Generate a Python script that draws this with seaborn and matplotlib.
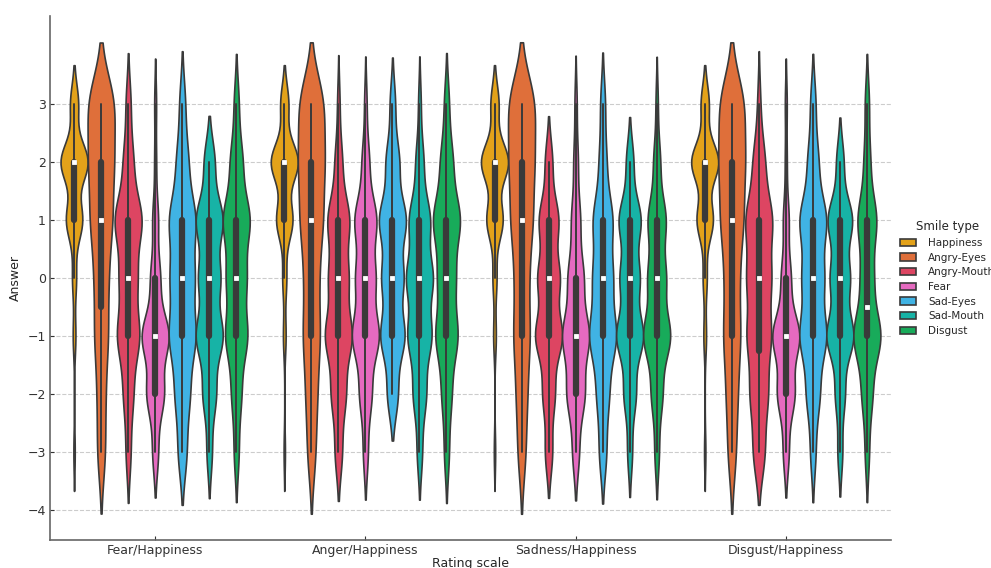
import matplotlib
matplotlib.use("Agg")
import matplotlib.pyplot as plt
import numpy as np
import pandas as pd
import seaborn as sns

# 答案取值 -3 .. 3
answers = [-3, -2, -1, 0, 1, 2, 3]
rating_scales = ["Fear/Happiness", "Anger/Happiness", "Sadness/Happiness", "Disgust/Happiness"]
smile_types = ["Happiness", "Angry-Eyes", "Angry-Mouth", "Fear", "Sad-Eyes", "Sad-Mouth", "Disgust"]
smile_colors = ["#E3A21A", "#DF6F3A", "#DD4562", "#E56AC0", "#40B3E4", "#17B3A6", "#18AB5A"]

# 每个量表下, 各微笑类型对 -3..3 的回答次数
fear_happiness_counts = [
    [1, 0, 2, 3, 12, 20, 6],
    [3, 3, 5, 5, 8, 9, 10],
    [2, 4, 9, 7, 11, 4, 2],
    [3, 9, 14, 5, 3, 1, 1],
    [3, 5, 9, 8, 9, 4, 2],
    [2, 5, 10, 8, 10, 4, 0],
    [2, 4, 9, 8, 11, 5, 2],
]
anger_happiness_counts = [
    [1, 0, 2, 3, 12, 20, 6],
    [3, 4, 6, 5, 8, 9, 9],
    [3, 6, 11, 8, 9, 3, 1],
    [2, 5, 11, 8, 9, 3, 1],
    [0, 4, 9, 8, 10, 5, 2],
    [2, 5, 9, 10, 8, 3, 1],
    [2, 4, 9, 7, 11, 5, 2],
]
sadness_happiness_counts = [
    [1, 0, 2, 3, 12, 20, 6],
    [3, 4, 6, 5, 8, 9, 10],
    [3, 5, 11, 9, 8, 3, 0],
    [3, 8, 12, 7, 4, 2, 1],
    [3, 5, 11, 8, 8, 3, 2],
    [2, 5, 11, 8, 9, 3, 0],
    [2, 5, 12, 8, 8, 3, 1],
]
disgust_happiness_counts = [
    [1, 0, 2, 3, 12, 20, 6],
    [3, 4, 6, 5, 8, 9, 9],
    [4, 6, 8, 8, 9, 4, 1],
    [3, 9, 14, 5, 3, 1, 1],
    [2, 5, 10, 8, 10, 4, 2],
    [2, 4, 11, 8, 10, 3, 0],
    [2, 5, 13, 6, 9, 3, 2],
]
all_counts = [fear_happiness_counts, anger_happiness_counts,
              sadness_happiness_counts, disgust_happiness_counts]

# 展开成长表
rows = []
for scale, table in zip(rating_scales, all_counts):
    for smile, counts in zip(smile_types, table):
        for value in np.repeat(answers, counts):
            rows.append((scale, smile, value))
df = pd.DataFrame(rows, columns=["Rating scale", "Smile type", "Answer"])

sns.set_style("ticks")
plt.rcParams["font.family"] = ["DejaVu Sans"]

fig = plt.figure(figsize=(9.91, 5.68), dpi=100)
ax = fig.add_axes([0.0505, 0.049, 0.8485, 0.923])

sns.violinplot(data=df, x="Rating scale", y="Answer", hue="Smile type",
               order=rating_scales, hue_order=smile_types,
               palette=smile_colors, inner="box", density_norm="width",
               bw_adjust=0.6, width=0.9, linewidth=1.2, linecolor="#3a3a3a",
               inner_kws=dict(box_width=4.5, whis_width=1.4, marker="s",
                              markersize=2.6, markeredgewidth=0.6),
               saturation=1, ax=ax)

ax.set_ylim(-4.52, 4.52)
ax.set_yticks(range(-4, 4))
ax.yaxis.grid(True, linestyle="--", color="#cccccc", linewidth=0.8)
ax.set_axisbelow(True)
ax.tick_params(labelsize=9, colors="#333333", length=3, direction="in", pad=3)
ax.set_xlabel("Rating scale", fontsize=9, labelpad=0)
ax.set_ylabel("Answer", fontsize=9)
for side in ["top", "right"]:
    ax.spines[side].set_visible(False)
for side in ["left", "bottom"]:
    ax.spines[side].set_color("#666666")
    ax.spines[side].set_linewidth(1.2)

leg = ax.legend(title="Smile type", loc="center left", bbox_to_anchor=(1.0, 0.5),
                frameon=False, fontsize=7.5, title_fontsize=8.5,
                handlelength=1.5, handletextpad=1.2, labelspacing=0.45)

fig.savefig("out.png", dpi=100)
